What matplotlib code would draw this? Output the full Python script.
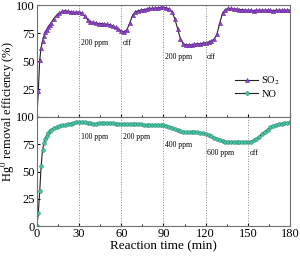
import numpy as np
import matplotlib
matplotlib.use('Agg')
import matplotlib.pyplot as plt
from matplotlib.ticker import MultipleLocator

plt.rcParams['font.family'] = ['Liberation Serif', 'DejaVu Serif']
plt.rcParams['mathtext.fontset'] = 'stix'

# reaction time (min)
t = np.concatenate([np.arange(0, 10), np.arange(10, 181, 2)])

# Hg0 removal efficiency (%) with SO2 added
so2 = [0, 23, 51, 62, 68, 72, 76, 78, 80.5, 82.5,
       84, 88, 91, 93, 94.5, 95, 94.5, 94, 93.5, 93.5,
       94, 93, 90, 87, 85, 84.5, 84, 83.5, 83.5, 83,
       83, 82.5, 81.5, 80, 78.5, 77, 76, 78, 84, 91,
       94, 95, 95.5, 96, 96.5, 97, 97, 97.5, 97.5, 98,
       98, 97.5, 96.5, 94, 88, 79, 70, 65.5, 64.5, 64.5,
       64.5, 65, 65.5, 65.5, 66, 66.5, 67, 68, 69.5, 74,
       84, 93, 96, 97, 97, 96.5, 96.5, 96, 96, 95.5,
       95.5, 95.5, 95, 95.5, 95.5, 95.5, 95.5, 95.5, 95.5, 95,
       95.5, 95.5, 95.5, 95.5, 95.5, 95.5]

# Hg0 removal efficiency (%) with NO added
no = [0, 12, 32, 55, 70, 76, 80, 83, 85.5, 87,
      88, 89.5, 90.5, 91.5, 92.5, 93, 93.5, 94, 94.5, 95,
      95.5, 95.5, 95, 94.5, 94.5, 94, 94, 94.5, 94.5, 94.5,
      94.5, 94.5, 94.5, 94, 94, 94, 94, 94, 93.5, 93.5,
      93.5, 93.5, 93.5, 93, 93, 93, 93, 93, 92.5, 92.5,
      92.5, 92, 91, 90, 89, 88, 87, 86.5, 86, 86,
      86.5, 86, 86, 85.5, 85, 84, 83.5, 82.5, 81, 79.5,
      78.5, 78, 77.5, 77.5, 77.5, 77.5, 77, 77, 77, 77,
      77, 77.5, 78.5, 80, 82, 84.5, 86.5, 88.5, 90.5, 92,
      93, 93.5, 94, 94.5, 94.5, 95]

top_lines = [30, 60, 90, 120]
top_notes = [(31, 66, '200 ppm'), (61, 66, 'off'), (91, 54, '200 ppm'), (121, 54, 'off')]
bot_lines = [30, 60, 90, 120, 150]
bot_notes = [(31, 82, '100 ppm'), (61, 82, '200 ppm'), (91, 74, '400 ppm'),
             (121, 67, '600 ppm'), (151, 67, 'off')]

fig = plt.figure(figsize=(3.0, 2.56), dpi=100)
ax1 = fig.add_axes([0.123, 0.543, 0.844, 0.437])
ax2 = fig.add_axes([0.123, 0.117, 0.844, 0.426])

ax1.plot(t, so2, color='#222222', lw=0.8, marker='^', ms=3.0,
         mfc='#8e44c9', mec='#6a2aa0', mew=0.4, label='SO$_2$')
ax2.plot(t, no, color='#222222', lw=0.8, marker='o', ms=2.7,
         mfc='#45c4a4', mec='#2a8a72', mew=0.4, label='NO')

for ax, lines, notes in [(ax1, top_lines, top_notes), (ax2, bot_lines, bot_notes)]:
    for x in lines:
        ax.axvline(x, color='#888888', ls=':', lw=0.7)
    for x, y, s in notes:
        ax.text(x, y, s, fontsize=5.5, ha='left', va='center')
    ax.set_xlim(0, 180)
    ax.set_ylim(0, 100)
    ax.xaxis.set_major_locator(MultipleLocator(30))
    ax.xaxis.set_minor_locator(MultipleLocator(15))
    ax.yaxis.set_major_locator(MultipleLocator(25))
    ax.tick_params(which='both', direction='in', labelsize=9, pad=1.5)
    ax.tick_params(which='major', length=2.5)
    ax.tick_params(which='minor', length=1.5)
    for sp in ax.spines.values():
        sp.set_color('#707070')
        sp.set_linewidth(0.8)

ax1.tick_params(labelbottom=False)
ax1.set_yticks([25, 50, 75, 100])
ax2.set_xlabel('Reaction time (min)', fontsize=9.5, labelpad=0)
fig.text(0.028, 0.566, 'Hg$^0$ removal efficiency (%)', rotation=90,
         fontsize=9, ha='center', va='center')

h1, l1 = ax1.get_legend_handles_labels()
h2, l2 = ax2.get_legend_handles_labels()
ax1.legend(h1 + h2, l1 + l2, loc='lower right', bbox_to_anchor=(0.99, 0.1),
           frameon=False, fontsize=7.5, handlelength=2.2, handletextpad=0.3,
           labelspacing=0.2, borderpad=0.2)

fig.savefig('out.png', dpi=100)
